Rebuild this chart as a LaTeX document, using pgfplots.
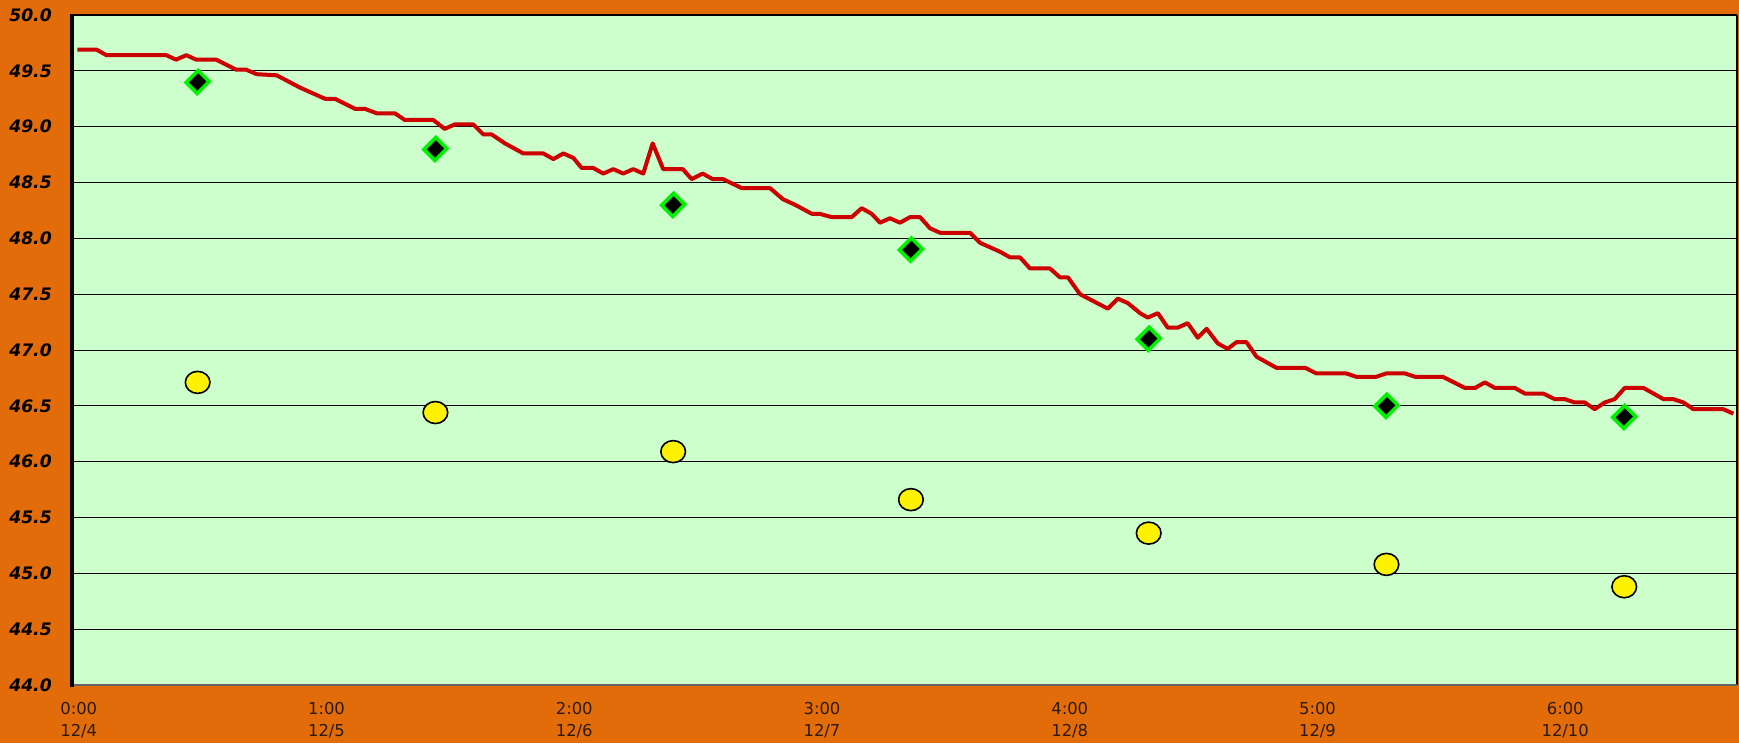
\documentclass[border=0pt]{standalone}
\usepackage{fontspec}
\setmainfont{DejaVu Sans}
\usepackage{pgfplots}
\pgfplotsset{compat=1.18}
\definecolor{bgorange}{HTML}{E36C0A}
\definecolor{plotbg}{HTML}{CCFFCC}
\definecolor{linered}{HTML}{CC0000}
\definecolor{mkgreen}{HTML}{00F000}
\definecolor{xlab}{HTML}{2A1A0A}
\begin{document}
\begin{tikzpicture}
\fill[bgorange] (-36pt,-29pt) rectangle (833.5pt,342.5pt);
\begin{axis}[
  at={(0,0)}, anchor=south west,
  scale only axis, width=832.5pt, height=335pt,
  xmin=64.9, xmax=1566.3, ymin=44, ymax=50,
  axis background/.style={fill=plotbg},
  axis line style={draw=none},
  clip=false,
  major tick length=0pt,
  ytick={44,44.5,45,45.5,46,46.5,47,47.5,48,48.5,49,49.5,50},
  ymajorgrids,
  grid style={black, line width=0.5pt},
  yticklabel style={/pgf/number format/.cd, fixed, fixed zerofill, precision=1, assume math mode=true,
    /tikz/.cd, font=\fontsize{8.6}{10}\selectfont\bfseries\itshape, text=black, xshift=-6.6pt},
  xtick={71,294.4,517.8,741.2,964.6,1188,1411.4},
  xticklabels={{0:00\\12/4},{1:00\\12/5},{2:00\\12/6},{3:00\\12/7},{4:00\\12/8},{5:00\\12/9},{6:00\\12/10}},
  xticklabel style={align=center, font=\fontsize{8.2}{11}\selectfont, text=xlab, yshift=-5.2pt},
]
\addplot[linered, line width=2pt, line join=round, mark=none] coordinates {
(69.7,49.69) (87,49.69) (96,49.64) (150,49.64) (158.7,49.60) (168,49.64) (177,49.60) (195,49.60)
(213,49.51) (222,49.51) (231.5,49.47) (249.5,49.46) (270.5,49.35) (293,49.25) (302,49.25)
(320,49.16) (329,49.16) (339.6,49.12) (356,49.12) (365,49.06) (390.7,49.06) (401,48.98)
(410,49.02) (426.8,49.02) (435.8,48.93) (443.4,48.93) (455.4,48.85) (471.9,48.76) (489.9,48.76)
(499,48.71) (508,48.76) (517,48.72) (524.5,48.63) (535,48.63) (544,48.58) (553,48.62) (562,48.58)
(571,48.62) (580,48.58) (588.5,48.85) (598,48.62) (615.6,48.62) (623.7,48.53) (633.6,48.58)
(642.6,48.53) (652,48.53) (668.8,48.45) (694.3,48.45) (706,48.35) (717,48.30) (732,48.22)
(739,48.22) (750,48.19) (768,48.19) (777,48.27) (786,48.22) (793.5,48.14) (802.5,48.18)
(811.5,48.14) (820.6,48.19) (829.6,48.19) (838.6,48.09) (847.6,48.05) (874.7,48.05) (883.7,47.96)
(901.7,47.88) (910.7,47.83) (919.7,47.83) (928.8,47.73) (946.8,47.73) (955.8,47.65) (963,47.65)
(973.8,47.50) (999,47.37) (1008,47.46) (1017,47.42) (1028,47.33) (1035,47.29) (1044,47.33)
(1053,47.20) (1062,47.20) (1071,47.24) (1080,47.11) (1088,47.19) (1098,47.06) (1107,47.01)
(1115,47.07) (1124,47.07) (1133,46.94) (1142,46.89) (1151,46.84) (1177,46.84) (1187,46.79) (1214,46.79)
(1223,46.76) (1241,46.76) (1250,46.79) (1267,46.79) (1276,46.76) (1301,46.76) (1311,46.71)
(1321,46.66) (1330,46.66) (1339,46.71) (1348,46.66) (1366,46.66) (1375,46.61) (1391.6,46.61)
(1402,46.56) (1411,46.56) (1420,46.53) (1429,46.53) (1438,46.47) (1447,46.53) (1456,46.56)
(1465,46.66) (1482,46.66) (1491,46.61) (1500,46.56) (1509,46.56) (1518,46.53) (1527,46.47)
(1554,46.47) (1563,46.43)
};
\addplot[only marks, mark=square*, mark size=3.9pt,
  mark options={rotate=45, fill=black, draw=mkgreen, line width=1.8pt, xscale=1.08}] coordinates {
(178.2,49.4) (392.6,48.8) (607,48.3) (821.4,47.9) (1035.8,47.1) (1250.2,46.5) (1464.6,46.4)
};
\addplot[only marks, mark=*, mark size=5.5pt,
  mark options={fill=yellow, draw=black, line width=0.8pt, xscale=1.12}] coordinates {
(178.2,46.71) (392.6,46.44) (607,46.09) (821.4,45.66) (1035.8,45.36) (1250.2,45.08) (1464.6,44.88)
};
\draw[black, line width=1.2pt] (rel axis cs:0,1) -- (rel axis cs:1,1);
\draw[black, line width=1pt] (rel axis cs:1,0) -- (rel axis cs:1,1);
\draw[black!60, line width=1.2pt] (rel axis cs:0,0) -- (rel axis cs:1,0);
\draw[black, line width=1.6pt] (rel axis cs:0,-0.003) -- (rel axis cs:0,1.002);
\end{axis}
\end{tikzpicture}
\end{document}
